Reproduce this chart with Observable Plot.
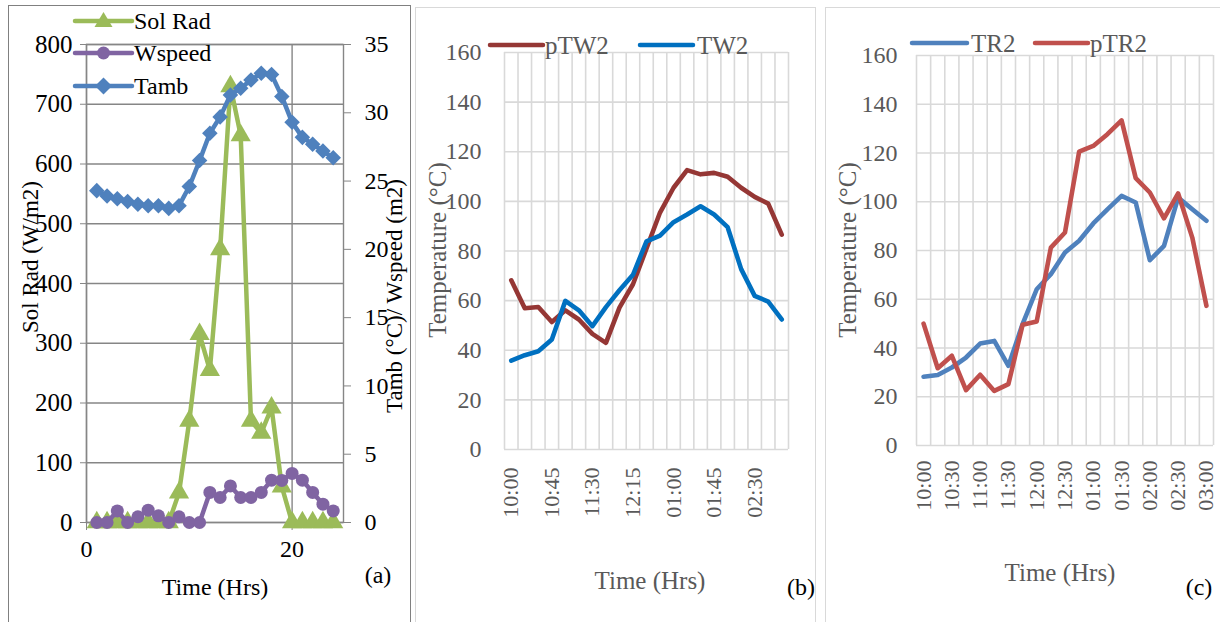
<!DOCTYPE html>
<html><head><meta charset="utf-8">
<script src="https://cdn.jsdelivr.net/npm/d3@7"></script>
<script src="https://cdn.jsdelivr.net/npm/@observablehq/plot@0.6"></script>
<style>
body{margin:0;background:#fff;}
#root{position:relative;width:1220px;height:622px;overflow:hidden;font-family:"Liberation Serif",serif;background:#fff;}
#root svg, #root svg text{font-family:"Liberation Serif",serif !important;}
.abs{position:absolute;white-space:nowrap;line-height:1;font-family:"Liberation Serif",serif;}
.box{position:absolute;box-sizing:border-box;}
</style>
</head><body>
<div id="root"></div>
<script>
// ---------- Panel (a) data ----------
const hoursA = [1,2,3,4,5,6,7,8,9,10,11,12,13,14,15,16,17,18,19,20,21,22,23,24];
const solRad = [0,0,0,0,0,0,0,0,50,170,315,255,457,730,648,170,150,192,60,0,0,0,0,0];
const wspeed = [0,0,0.85,0,0.42,0.9,0.49,0,0.42,0,0,2.2,1.83,2.68,1.83,1.83,2.2,3.1,3.08,3.59,3.1,2.2,1.34,0.85];
const tamb = [24.3,23.9,23.7,23.5,23.3,23.2,23.2,23.0,23.2,24.6,26.5,28.5,29.7,31.3,31.8,32.4,32.9,32.8,31.2,29.3,28.2,27.7,27.2,26.7];
const leftTicksA = [0,100,200,300,400,500,600,700,800];
const rightTicksA = [0,5,10,15,20,25,30,35];
const xTicksA = [0,20];

// ---------- Panels (b), (c) data ----------
const times = ["10:00","10:15","10:30","10:45","11:00","11:15","11:30","11:45","12:00","12:15","12:30","12:45","01:00","01:15","01:30","01:45","02:00","02:15","02:30","02:45","03:00"];
const pTW2 = [68.2,56.9,57.4,51.4,56.1,52.4,46.6,43.0,57.2,66.6,81.0,95.5,105.5,112.6,110.9,111.5,109.9,105.5,101.8,99.1,86.6];
const TW2  = [35.8,38.0,39.6,44.3,59.9,56.1,49.7,57.4,64.2,70.4,83.9,86.2,91.6,94.7,98.0,94.7,89.6,72.7,61.9,59.6,52.4];
const TR2  = [28.2,28.9,32.0,36.1,41.8,42.9,32.7,49.8,64.1,70.3,79.2,84.0,91.1,96.9,102.4,99.7,76.0,81.9,101.7,96.9,92.2];
const pTR2 = [50.0,31.7,36.8,22.7,29.0,22.4,25.2,49.5,50.9,81.2,87.4,120.6,122.9,127.7,133.4,109.7,103.8,93.2,103.4,85.3,57.3];
const tempTicks = [0,20,40,60,80,100,120,140,160];
const labelIdxB = [0,3,6,9,12,15,18];
const labelIdxC = [0,2,4,6,8,10,12,14,16,18,20];

const root = document.getElementById("root");
const FONT = "Liberation Serif, serif";

function place(el, left, top){ el.style.position="absolute"; el.style.left=left+"px"; el.style.top=top+"px"; root.appendChild(el); }
function addBox(left, top, w, h, color){
  const d=document.createElement("div"); d.className="box";
  d.style.left=left+"px"; d.style.top=top+"px"; d.style.width=w+"px"; d.style.height=h+"px";
  d.style.border="1.5px solid "+color; root.appendChild(d);
}
function addText(txt, x, y, o={}){
  const d=document.createElement("div"); d.className="abs"; d.textContent=txt;
  d.style.left=x+"px"; d.style.top=y+"px"; d.style.fontSize=(o.size||24)+"px"; d.style.color=o.color||"#000";
  if(o.left) d.style.transform="translate(0,-50%)";
  else d.style.transform=o.rotate?"translate(-50%,-50%) rotate(-90deg)":"translate(-50%,-50%)";
  root.appendChild(d);
}
function addSwatch(x1,x2,y,color,symbol){
  const w=x2-x1, cx=w/2, cy=12; let m="";
  if(symbol==="triangle") m=`<polygon points="${cx},${cy-9} ${cx-9},${cy+6} ${cx+9},${cy+6}" fill="${color}"/>`;
  if(symbol==="circle") m=`<circle cx="${cx}" cy="${cy}" r="6.5" fill="${color}"/>`;
  if(symbol==="diamond") m=`<polygon points="${cx},${cy-8.5} ${cx+8.5},${cy} ${cx},${cy+8.5} ${cx-8.5},${cy}" fill="${color}"/>`;
  root.insertAdjacentHTML("beforeend",`<svg width="${w}" height="24" style="position:absolute;left:${x1}px;top:${y-12}px;overflow:visible"><line x1="0" y1="12" x2="${w}" y2="12" stroke="${color}" stroke-width="4.5" stroke-linecap="round"/>${m}</svg>`);
}

// panel borders
addBox(8,5,403,700,"#808080");
addBox(415,7,401,700,"#d9d9d9");
addBox(825,7,420,700,"#d9d9d9");

// ---------- Panel (a) ----------
const k = 800/35;
const rowsA = hoursA.map((h,i)=>({h, sol:solRad[i], ws:wspeed[i]*k, ta:tamb[i]*k}));
const G = "#868686";
const plotA = Plot.plot({
  width:410, height:622, marginLeft:86, marginRight:67, marginTop:44, marginBottom:100,
  x:{domain:[0,25]}, y:{domain:[0,800]},
  style:{fontFamily:FONT, fontSize:"24px", color:"#000", background:"transparent", overflow:"visible"},
  marks:[
    Plot.gridY({ticks:leftTicksA, stroke:G, strokeOpacity:1, strokeWidth:1.4}),
    Plot.gridX({ticks:xTicksA, stroke:G, strokeOpacity:1, strokeWidth:1.4}),
    Plot.frame({stroke:G, strokeWidth:1.4}),
    Plot.axisY({ticks:leftTicksA, tickSize:6, tickPadding:8, stroke:G, fill:"#000", fontSize:25, label:null}),
    Plot.axisY({anchor:"right", ticks:rightTicksA.map(v=>v*k), tickFormat:d=>String(Math.round(d/k)), tickSize:7, tickPadding:14, stroke:G, fill:"#000", fontSize:24, label:null}),
    Plot.axisX({ticks:xTicksA, tickSize:8, tickPadding:9, stroke:G, fill:"#000", fontSize:24, label:null}),
    Plot.line(rowsA,{x:"h", y:"sol", stroke:"#9BBB59", strokeWidth:4.5, strokeLinejoin:"round"}),
    Plot.dot(rowsA,{x:"h", y:"sol", symbol:"triangle", r:7.5, fill:"#9BBB59", stroke:"none"}),
    Plot.line(rowsA,{x:"h", y:"ws", stroke:"#8064A2", strokeWidth:4.5, strokeLinejoin:"round"}),
    Plot.dot(rowsA,{x:"h", y:"ws", symbol:"circle", r:6.5, fill:"#8064A2", stroke:"none"}),
    Plot.line(rowsA,{x:"h", y:"ta", stroke:"#4F81BD", strokeWidth:4.5, strokeLinejoin:"round"}),
    Plot.dot(rowsA,{x:"h", y:"ta", symbol:"diamond2", r:7, fill:"#4F81BD", stroke:"none"})
  ]
});
place(plotA,0,0);
addSwatch(75,132,21,"#9BBB59","triangle"); addText("Sol Rad",134,21,{left:true,size:24});
addSwatch(75,132,53,"#8064A2","circle");   addText("Wspeed",134,53,{left:true,size:24});
addSwatch(75,132,86,"#4F81BD","diamond");  addText("Tamb",134,86,{left:true,size:24});
addText("Sol Rad (W/m2)",30,257,{rotate:true,size:23});
addText("Tamb (°C)/ Wspeed (m2)",394,296,{rotate:true,size:23});
addText("Time (Hrs)",215,587,{size:24});
addText("(a)",378,575,{size:24});

// ---------- line panel helper ----------
function linePanel(o){
  const rows=[];
  o.series.forEach(s=>s.values.forEach((v,i)=>rows.push({i, v, name:s.name})));
  const bounds = times.map((t,i)=>i-0.5).concat([times.length-0.5]);
  return Plot.plot({
    width:o.width, height:622, marginLeft:o.ml, marginRight:o.mr, marginTop:o.mt, marginBottom:o.mb,
    x:{domain:[-0.5,times.length-0.5]}, y:{domain:[0,160]},
    color:{domain:o.series.map(s=>s.name), range:o.series.map(s=>s.color)},
    style:{fontFamily:FONT, fontSize:"24px", color:"#595959", background:"transparent", overflow:"visible"},
    marks:[
      Plot.gridY({ticks:tempTicks, stroke:"#d9d9d9", strokeOpacity:1, strokeWidth:1.6}),
      Plot.gridX({ticks:bounds, stroke:"#d9d9d9", strokeOpacity:1, strokeWidth:1.6}),
      Plot.axisY({ticks:tempTicks, tickSize:0, tickPadding:o.yPad, fill:"#595959", fontSize:24, label:null}),
      Plot.axisX({ticks:o.labelIdx, tickFormat:i=>times[i], tickSize:0, tickPadding:o.xPad, tickRotate:-90, fill:"#595959", fontSize:22, label:null}),
      Plot.line(rows,{x:"i", y:"v", z:"name", stroke:"name", strokeWidth:4.6, strokeLinejoin:"round", strokeLinecap:"round"})
    ]
  });
}

// ---------- Panel (b) ----------
const plotB = linePanel({width:410, ml:94, mr:32, mt:52, mb:173, yPad:23, xPad:18, labelIdx:labelIdxB,
  series:[{name:"pTW2", values:pTW2, color:"#953735"},{name:"TW2", values:TW2, color:"#0070C0"}]});
place(plotB,410,0);
addSwatch(490,543,45,"#953735"); addText("pTW2",545,45,{left:true,size:25,color:"#595959"});
addSwatch(640,693,45,"#0070C0"); addText("TW2",697,45,{left:true,size:25,color:"#595959"});
addText("Temperature (°C)",437,250,{rotate:true,size:25,color:"#595959"});
addText("Time (Hrs)",650,580,{size:25,color:"#595959"});
addText("(b)",801,587,{size:24});

// ---------- Panel (c) ----------
const plotC = linePanel({width:400, ml:96, mr:7, mt:55, mb:177, yPad:19, xPad:15, labelIdx:labelIdxC,
  series:[{name:"TR2", values:TR2, color:"#4F81BD"},{name:"pTR2", values:pTR2, color:"#C0504D"}]});
place(plotC,820,0);
addSwatch(912,967,43,"#4F81BD"); addText("TR2",971,43,{left:true,size:25,color:"#595959"});
addSwatch(1035,1088,43,"#C0504D"); addText("pTR2",1090,43,{left:true,size:25,color:"#595959"});
addText("Temperature (°C)",847,250,{rotate:true,size:25,color:"#595959"});
addText("Time (Hrs)",1060,572,{size:25,color:"#595959"});
addText("(c)",1199,587,{size:24});
</script>
</body></html>
